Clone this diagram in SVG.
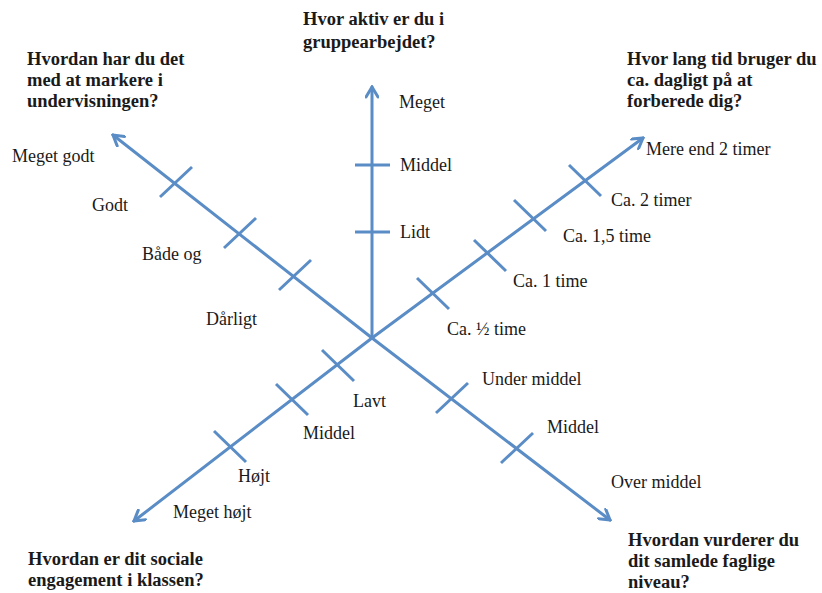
<svg xmlns="http://www.w3.org/2000/svg" width="822" height="593" viewBox="0 0 822 593">
<style>
.ax{stroke:#5a8cc6;stroke-width:3;fill:none;stroke-linecap:round}
.tk{stroke:#5a8cc6;stroke-width:3;fill:none}
.t{font-family:"Liberation Serif","Times New Roman",serif;font-size:18.5px;font-weight:bold;fill:#1a1a1a}
.l{font-family:"Liberation Serif","Times New Roman",serif;font-size:18px;fill:#1a1a1a}
</style>
<defs>
<marker id="ah" viewBox="0 0 14 14" refX="12" refY="7" markerWidth="14" markerHeight="14" markerUnits="userSpaceOnUse" orient="auto">
<path d="M2,1 L12,7 L2,13" stroke="#5a8cc6" stroke-width="3" fill="none" stroke-linecap="round" stroke-linejoin="miter"/>
</marker>
</defs>
<rect width="822" height="593" fill="#ffffff"/>
<g id="connectors">
<line class="ax" x1="372" y1="338" x2="372" y2="87" marker-end="url(#ah)"/>
<line class="ax" x1="372" y1="338" x2="113" y2="135" marker-end="url(#ah)"/>
<line class="ax" x1="372" y1="338" x2="643" y2="138" marker-end="url(#ah)"/>
<line class="ax" x1="372" y1="338" x2="134" y2="521" marker-end="url(#ah)"/>
<line class="ax" x1="372" y1="338" x2="610" y2="520" marker-end="url(#ah)"/>
</g>
<g id="ticks">
<line class="tk" x1="355" y1="165" x2="390" y2="165"/>
<line class="tk" x1="355" y1="232" x2="390" y2="232"/>
<line class="tk" x1="160" y1="197" x2="192" y2="167"/>
<line class="tk" x1="224" y1="248" x2="256" y2="218"/>
<line class="tk" x1="279" y1="290" x2="311" y2="260"/>
<line class="tk" x1="417" y1="278" x2="449" y2="309"/>
<line class="tk" x1="474" y1="240" x2="506" y2="271"/>
<line class="tk" x1="514" y1="200" x2="546" y2="231"/>
<line class="tk" x1="569" y1="165" x2="601" y2="196"/>
<line class="tk" x1="322" y1="350" x2="354" y2="381"/>
<line class="tk" x1="276" y1="384" x2="308" y2="415"/>
<line class="tk" x1="214" y1="431" x2="246" y2="462"/>
<line class="tk" x1="436" y1="413" x2="468" y2="383"/>
<line class="tk" x1="501" y1="463" x2="533" y2="433"/>
</g>
<g id="q-top">
<text class="t" x="303" y="25">Hvor aktiv er du i</text>
<text class="t" x="303" y="48">gruppearbejdet?</text>
<text class="l" x="399" y="108">Meget</text>
<text class="l" x="400" y="171">Middel</text>
<text class="l" x="400" y="238">Lidt</text>
</g>
<g id="q-topleft">
<text class="t" x="27" y="65">Hvordan har du det</text>
<text class="t" x="27" y="86">med at markere i</text>
<text class="t" x="27" y="107">undervisningen?</text>
<text class="l" x="12" y="162">Meget godt</text>
<text class="l" x="92" y="211">Godt</text>
<text class="l" x="142" y="260">Både og</text>
<text class="l" x="206" y="325">Dårligt</text>
</g>
<g id="q-topright">
<text class="t" x="627" y="65">Hvor lang tid bruger du</text>
<text class="t" x="627" y="86">ca. dagligt på at</text>
<text class="t" x="627" y="107">forberede dig?</text>
<text class="l" x="646" y="155">Mere end 2 timer</text>
<text class="l" x="611" y="206">Ca. 2 timer</text>
<text class="l" x="563" y="242">Ca. 1,5 time</text>
<text class="l" x="513" y="287">Ca. 1 time</text>
<text class="l" x="447" y="335">Ca. ½ time</text>
</g>
<g id="q-bottomleft">
<text class="t" x="28" y="565">Hvordan er dit sociale</text>
<text class="t" x="28" y="586">engagement i klassen?</text>
<text class="l" x="353" y="407">Lavt</text>
<text class="l" x="303" y="439">Middel</text>
<text class="l" x="238" y="482">Højt</text>
<text class="l" x="173" y="518">Meget højt</text>
</g>
<g id="q-bottomright">
<text class="t" x="628" y="546">Hvordan vurderer du</text>
<text class="t" x="628" y="567">dit samlede faglige</text>
<text class="t" x="628" y="588">niveau?</text>
<text class="l" x="482" y="385">Under middel</text>
<text class="l" x="547" y="433">Middel</text>
<text class="l" x="611" y="488">Over middel</text>
</g>
</svg>
